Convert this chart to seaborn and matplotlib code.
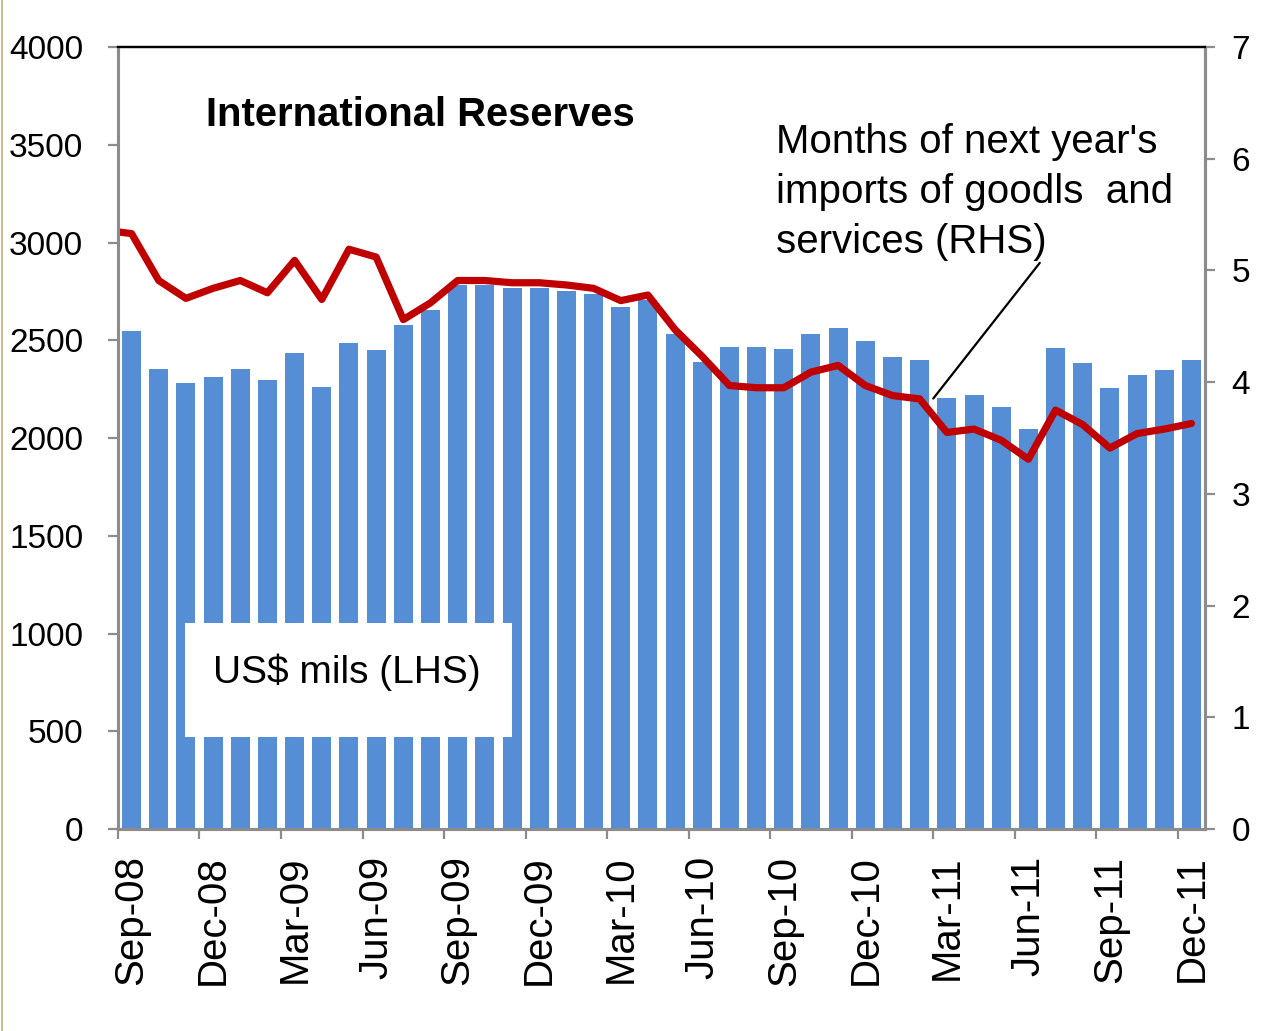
import numpy as np
import pandas as pd
import matplotlib
matplotlib.use("Agg")
import matplotlib.pyplot as plt
from matplotlib.patches import Rectangle
from matplotlib.lines import Line2D
from matplotlib.ticker import FixedLocator
import seaborn as sns

# Monthly categories, Sep-08 .. Dec-11
months = ["Sep-08", "Oct-08", "Nov-08", "Dec-08",
          "Jan-09", "Feb-09", "Mar-09", "Apr-09", "May-09", "Jun-09",
          "Jul-09", "Aug-09", "Sep-09", "Oct-09", "Nov-09", "Dec-09",
          "Jan-10", "Feb-10", "Mar-10", "Apr-10", "May-10", "Jun-10",
          "Jul-10", "Aug-10", "Sep-10", "Oct-10", "Nov-10", "Dec-10",
          "Jan-11", "Feb-11", "Mar-11", "Apr-11", "May-11", "Jun-11",
          "Jul-11", "Aug-11", "Sep-11", "Oct-11", "Nov-11", "Dec-11"]

# International reserves, US$ millions (left axis)
reserves = [2545, 2355, 2280, 2310, 2355, 2295, 2435, 2260, 2485, 2450,
            2580, 2655, 2785, 2785, 2765, 2765, 2750, 2735, 2670, 2705,
            2530, 2390, 2465, 2465, 2455, 2530, 2565, 2495, 2415, 2400,
            2205, 2220, 2160, 2045, 2460, 2385, 2255, 2320, 2350, 2400]

# Months of next year's imports covered (right axis); series starts Aug-08
cover_months = ["Aug-08"] + months
import_cover = [5.36, 5.33, 4.91, 4.75, 4.84, 4.91, 4.80, 5.09, 4.74, 5.19,
                5.12, 4.56, 4.71, 4.91, 4.91, 4.89, 4.89, 4.87, 4.84, 4.73,
                4.78, 4.47, 4.23, 3.97, 3.95, 3.95, 4.09, 4.15, 3.97, 3.88,
                3.85, 3.55, 3.58, 3.48, 3.31, 3.75, 3.62, 3.41, 3.54, 3.58,
                3.63]

tick_labels = months[::3]
left_ticks = list(range(0, 4001, 500))
right_ticks = list(range(0, 8))

BAR_BLUE = "#558ED5"
LINE_RED = "#C00000"
AXIS_GREY = "#8C8C8C"

sns.set_style("white")
plt.rcParams["font.family"] = ["Liberation Sans", "DejaVu Sans"]
plt.rcParams["text.color"] = "black"
plt.rcParams["xtick.labelcolor"] = "black"
plt.rcParams["ytick.labelcolor"] = "black"

fig = plt.figure(figsize=(12.63, 10.31), dpi=100)
ax = fig.add_axes([0.0934, 0.1959, 0.8607, 0.7585])

df = pd.DataFrame({"month": months, "reserves": reserves})
sns.barplot(data=df, x="month", y="reserves", order=months, color=BAR_BLUE,
            saturation=1, width=0.70, linewidth=0, ax=ax, zorder=2)

ax2 = ax.twinx()
pos = np.arange(len(cover_months)) - 1
sns.lineplot(x=pos, y=import_cover, color=LINE_RED, linewidth=5.2, ax=ax2,
             solid_joinstyle="round", solid_capstyle="round")

n = len(months)
for a in (ax, ax2):
    a.set_xlim(-0.5, n - 0.5)
    a.set_xlabel("")
    a.set_ylabel("")
ax.set_ylim(0, 4000)
ax2.set_ylim(0, 7)

# x axis: labels every quarter, tick marks on category boundaries
ax.xaxis.set_major_locator(FixedLocator(np.arange(0, n, 3)))
ax.set_xticklabels(tick_labels, rotation=90, fontsize=29)
ax.xaxis.set_minor_locator(FixedLocator(np.arange(-0.5, n - 0.5, 3)))
ax.tick_params(axis="x", which="major", length=0, pad=19)
ax.tick_params(axis="x", which="minor", length=7, width=1.6, color=AXIS_GREY,
               direction="out", bottom=True)

ax.set_yticks(left_ticks)
ax.set_yticklabels([str(v) for v in left_ticks], fontsize=24)
ax.tick_params(axis="y", length=7, width=1.6, color=AXIS_GREY,
               direction="out", left=True, pad=18)
ax2.set_yticks(right_ticks)
ax2.set_yticklabels([str(v) for v in right_ticks], fontsize=24)
ax2.tick_params(axis="y", length=7, width=1.6, color=AXIS_GREY,
                direction="out", right=True, pad=12)
ax2.tick_params(axis="x", length=0)

for a in (ax, ax2):
    for side in ("left", "right", "bottom"):
        a.spines[side].set_color(AXIS_GREY)
        a.spines[side].set_linewidth(2.2)
    a.spines["top"].set_color("black")
    a.spines["top"].set_linewidth(1.6)

# Chart title and series labels
ax.text(0.081, 0.899, "International Reserves", transform=ax.transAxes,
        fontsize=28.8, fontweight="bold", ha="left", va="baseline", zorder=5)

ax2.text(0.6053, 0.7366,
         "Months of next year's\nimports of goodls  and\nservices (RHS)",
         transform=ax2.transAxes, fontsize=29,
         ha="left", va="baseline", linespacing=1.40, zorder=5)
ax2.annotate("", xy=(0.750, 0.5505), xytext=(0.848, 0.724),
             xycoords="axes fraction", textcoords="axes fraction",
             arrowprops=dict(arrowstyle="-", color="black", lw=1.6,
                             shrinkA=0, shrinkB=0))

ax.add_patch(Rectangle((0.0616, 0.1176), 0.3009, 0.1458,
                       transform=ax.transAxes, facecolor="white",
                       edgecolor="none", zorder=4))
ax.text(0.0874, 0.1867, "US$ mils (LHS)", transform=ax.transAxes,
        fontsize=28, ha="left", va="baseline", zorder=5)

# thin frame line along the left edge of the figure
fig.add_artist(Line2D([0.0015, 0.0015], [0, 1], transform=fig.transFigure,
                      color="#C8BE8E", lw=1.5))

fig.savefig("out.png", dpi=100)
